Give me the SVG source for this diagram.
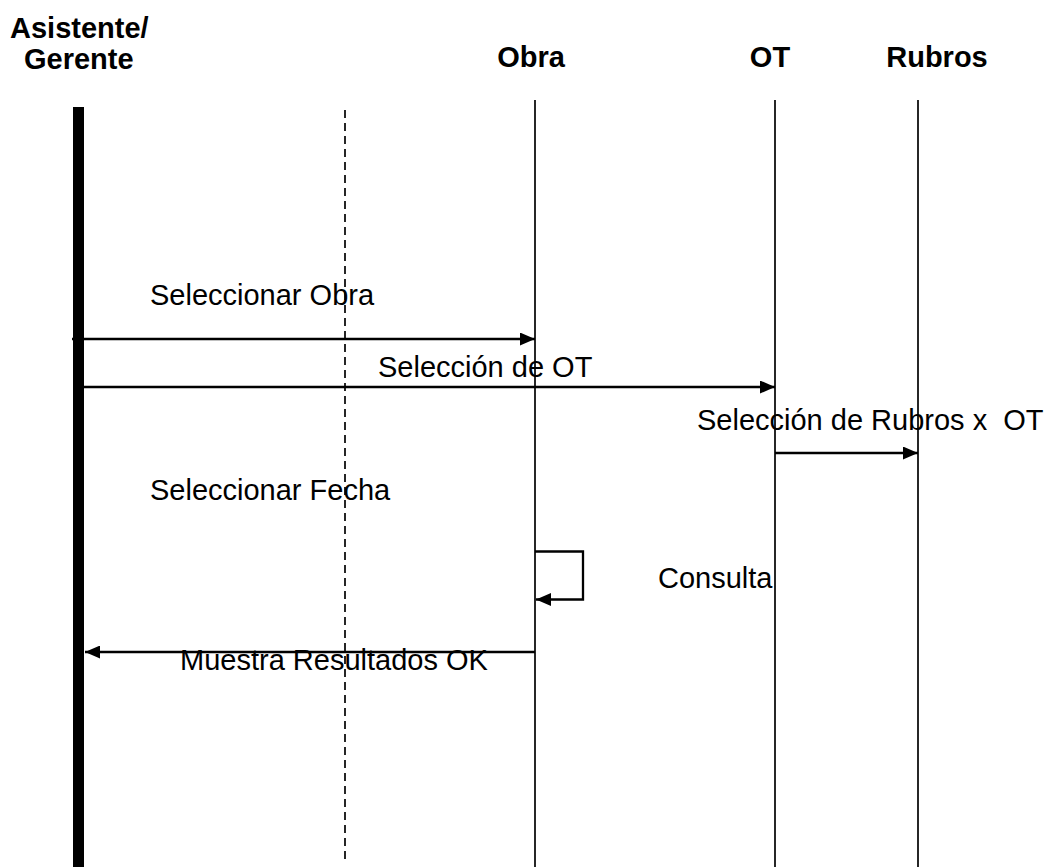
<svg xmlns="http://www.w3.org/2000/svg" width="1049" height="867" viewBox="0 0 1049 867">
<style>
.hdr{font-family:"Liberation Sans",Arial,sans-serif;font-weight:bold;font-size:29px;fill:#000}
.lbl{font-family:"Liberation Sans",Arial,sans-serif;font-size:29px;fill:#000}
.life{stroke:#000;stroke-width:1.7;fill:none}
.msg{stroke:#000;stroke-width:2.3;fill:none}
</style>
<defs>
<marker id="ah" viewBox="0 0 15 13" refX="15" refY="6.5" markerWidth="15" markerHeight="13" markerUnits="userSpaceOnUse" orient="auto">
<path d="M0,0 L15,6.5 L0,13 Z" fill="#000"/>
</marker>
</defs>
<rect width="1049" height="867" fill="#fff"/>
<g id="actor">
<text class="hdr" x="10" y="38">Asistente/</text>
<text class="hdr" x="24" y="69">Gerente</text>
<rect x="73" y="107" width="11" height="760" fill="#000"/>
</g>
<g id="boundary">
<line x1="345" y1="110" x2="345" y2="860" stroke="#000" stroke-width="1.7" stroke-dasharray="8,5"/>
</g>
<g id="obra">
<text class="hdr" x="531" y="67" text-anchor="middle">Obra</text>
<line class="life" x1="535" y1="100" x2="535" y2="867"/>
</g>
<g id="ot">
<text class="hdr" x="770" y="67" text-anchor="middle">OT</text>
<line class="life" x1="775" y1="100" x2="775" y2="867"/>
</g>
<g id="rubros">
<text class="hdr" x="937" y="67" text-anchor="middle">Rubros</text>
<line class="life" x1="918" y1="100" x2="918" y2="867"/>
</g>
<g id="connectors">
<line class="msg" x1="72" y1="339" x2="535" y2="339" marker-end="url(#ah)"/>
<line class="msg" x1="84" y1="387" x2="775" y2="387" marker-end="url(#ah)"/>
<line class="msg" x1="775" y1="453" x2="918" y2="453" marker-end="url(#ah)"/>
<polyline class="msg" points="535,551.5 583,551.5 583,599.5 536,599.5" marker-end="url(#ah)"/>
<line class="msg" x1="535" y1="652" x2="85" y2="652" marker-end="url(#ah)"/>
</g>
<g id="labels">
<text class="lbl" x="150" y="305">Seleccionar Obra</text>
<text class="lbl" x="378" y="377">Selección de OT</text>
<text class="lbl" x="697" y="430" xml:space="preserve">Selección de Rubros x  OT</text>
<text class="lbl" x="150" y="500">Seleccionar Fecha</text>
<text class="lbl" x="658" y="588">Consulta</text>
<text class="lbl" x="180" y="670">Muestra Resultados OK</text>
</g>
</svg>
